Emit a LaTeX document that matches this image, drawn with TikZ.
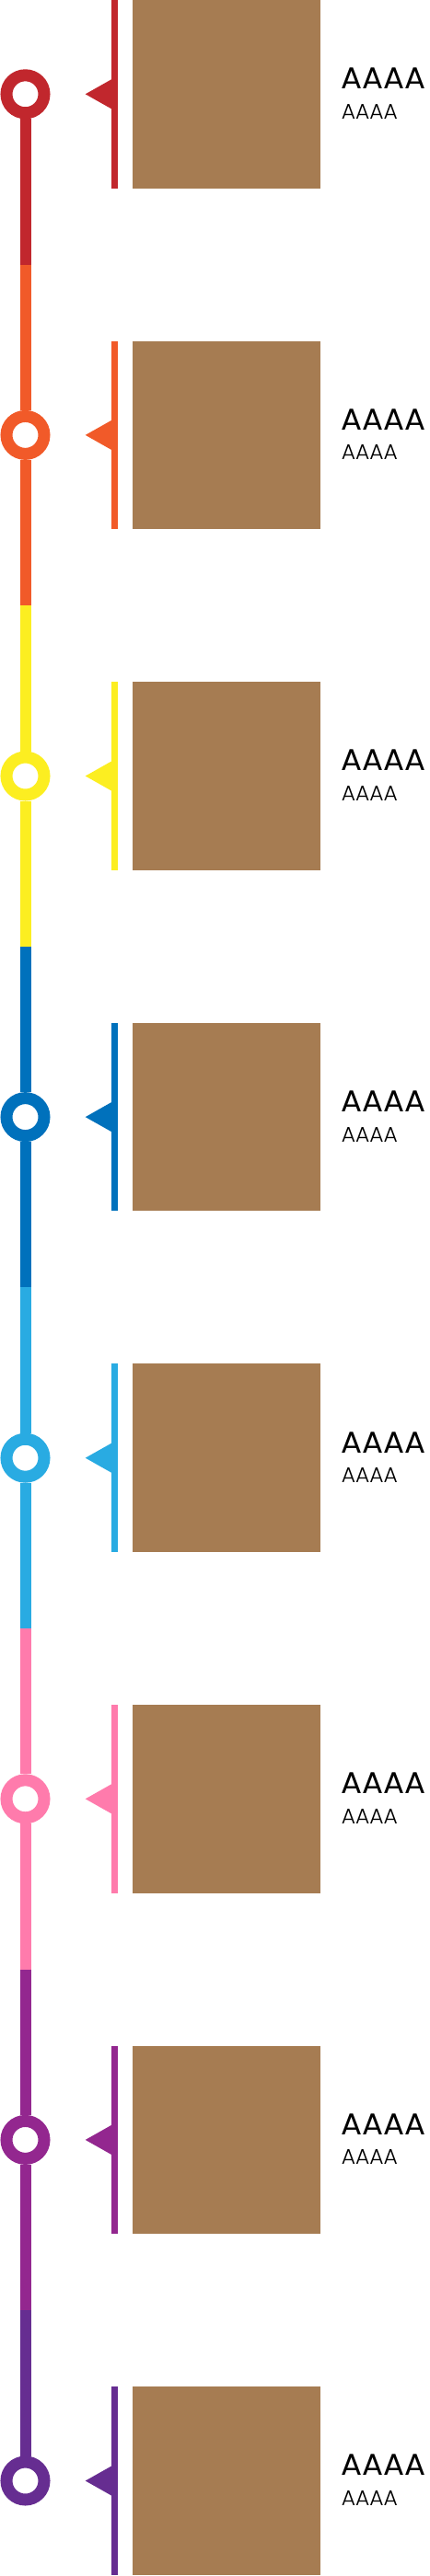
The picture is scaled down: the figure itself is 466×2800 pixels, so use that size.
\documentclass[tikz,border=0pt]{standalone}
\usepackage{graphicx}
\usepackage{fontspec}
\setmainfont{Poppins}
\newfontfamily\lightfont{Poppins Light}
\definecolor{cRed}{HTML}{C1272D}
\definecolor{cOrange}{HTML}{F15A29}
\definecolor{cYellow}{HTML}{FCEE21}
\definecolor{cBlue}{HTML}{0071BC}
\definecolor{cSky}{HTML}{29ABE2}
\definecolor{cPink}{HTML}{FF7BAC}
\definecolor{cMagenta}{HTML}{93278F}
\definecolor{cPurple}{HTML}{662D91}
\definecolor{photo}{HTML}{A67C52}
\tikzset{
    ring/.style={circle,draw=#1,fill=white,line width=13pt,minimum size=41pt,inner sep=0pt},
    track/.style={draw=#1,line width=12pt},
    txt/.style={anchor=base west,inner sep=0pt}
}
\newcommand\milestone[3]{
    \fill[#2] (121,#3-102.3) rectangle (127.7,#3+102.3);
    \fill[#2] (92.7,#3) -- (121,#3-16) -- (121,#3+16) -- cycle;
    \fill[photo] (144,#3-102.3) rectangle (348.3,#3+102.3);
    \node[ring=#2] (#1) at (27.5,#3) {};
    \node[txt] (#1t) at (370.7,#3-5.6) {\resizebox{92pt}{22.7pt}{AAAA}};
    \node[txt] (#1s) at (370.7,#3+27) {\resizebox{61pt}{16pt}{\lightfont AAAA}};
}
\begin{document}
\begin{tikzpicture}[x=1pt,y=-1pt]
            \useasboundingbox (0,0) rectangle (466,2800);
            \milestone{s1}{cRed}{102.3}
            \milestone{s2}{cOrange}{472.9}
            \milestone{s3}{cYellow}{843.5}
            \milestone{s4}{cBlue}{1214.1}
            \milestone{s5}{cSky}{1584.7}
            \milestone{s6}{cPink}{1955.3}
            \milestone{s7}{cMagenta}{2325.9}
            \milestone{s8}{cPurple}{2696.5}
            % where the colour of the track changes
            \coordinate (m1) at (27.5,287.6);
            \coordinate (m2) at (27.5,658.2);
            \coordinate (m3) at (27.5,1028.8);
            \coordinate (m4) at (27.5,1399.4);
            \coordinate (m5) at (27.5,1770);
            \coordinate (m6) at (27.5,2140.6);
            \coordinate (m7) at (27.5,2511.2);
            \draw[track=cRed]     (s1) -- (m1);
            \draw[track=cOrange]  (m1) -- (s2);
            \draw[track=cOrange]  (s2) -- (m2);
            \draw[track=cYellow]  (m2) -- (s3);
            \draw[track=cYellow]  (s3) -- (m3);
            \draw[track=cBlue]    (m3) -- (s4);
            \draw[track=cBlue]    (s4) -- (m4);
            \draw[track=cSky]     (m4) -- (s5);
            \draw[track=cSky]     (s5) -- (m5);
            \draw[track=cPink]    (m5) -- (s6);
            \draw[track=cPink]    (s6) -- (m6);
            \draw[track=cMagenta] (m6) -- (s7);
            \draw[track=cMagenta] (s7) -- (m7);
            \draw[track=cPurple]  (m7) -- (s8);
        \end{tikzpicture}
\end{document}
